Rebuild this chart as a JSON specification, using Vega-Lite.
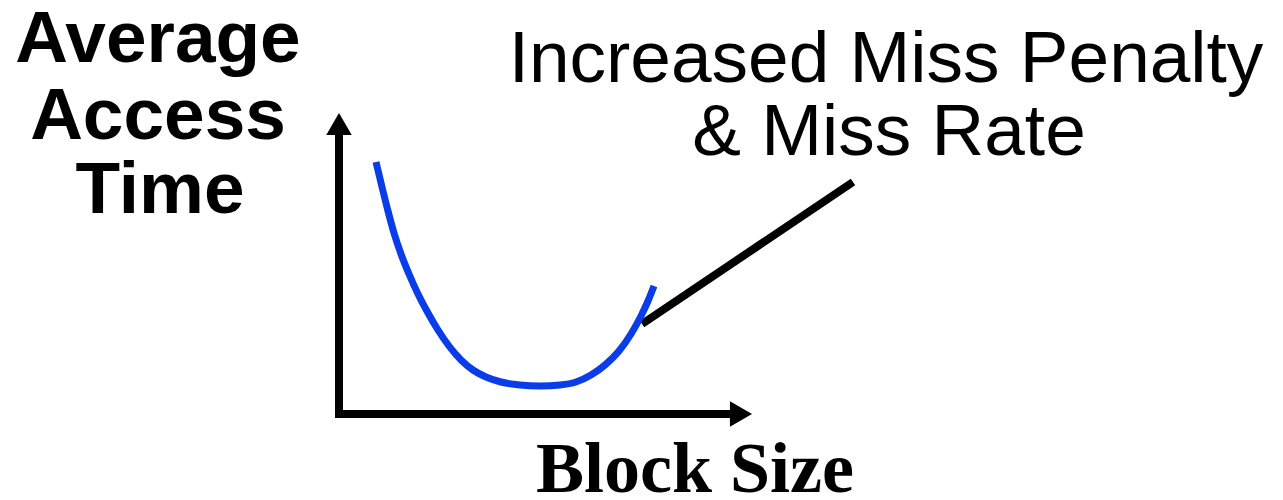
{
  "$schema": "https://vega.github.io/schema/vega-lite/v6.json",
  "width": 1283,
  "height": 500,
  "padding": 0,
  "autosize": {"type": "none"},
  "background": "white",
  "config": {"view": {"stroke": null}},
  "datasets": {
    "segments": [
      {"seg": "yaxis", "ord": 1, "x": 339, "y": 418},
      {"seg": "yaxis", "ord": 2, "x": 339, "y": 128},
      {"seg": "xaxis", "ord": 1, "x": 335, "y": 414},
      {"seg": "xaxis", "ord": 2, "x": 738, "y": 414},
      {"seg": "pointer", "ord": 1, "x": 642, "y": 324},
      {"seg": "pointer", "ord": 2, "x": 853, "y": 182}
    ],
    "heads": [
      {"dir": "up", "x": 339, "y": 124},
      {"dir": "right", "x": 741, "y": 414}
    ],
    "curve": [
      {"x": 376, "y": 162},
      {"x": 382, "y": 187},
      {"x": 388, "y": 211},
      {"x": 394, "y": 233},
      {"x": 401, "y": 254},
      {"x": 409, "y": 274},
      {"x": 418, "y": 294},
      {"x": 428, "y": 313},
      {"x": 438, "y": 330},
      {"x": 449, "y": 346},
      {"x": 461, "y": 360},
      {"x": 473, "y": 370},
      {"x": 486, "y": 377},
      {"x": 501, "y": 382},
      {"x": 520, "y": 385},
      {"x": 540, "y": 386},
      {"x": 560, "y": 385},
      {"x": 576, "y": 382},
      {"x": 591, "y": 375},
      {"x": 605, "y": 365},
      {"x": 619, "y": 351},
      {"x": 631, "y": 334},
      {"x": 641, "y": 316},
      {"x": 648, "y": 301},
      {"x": 654, "y": 286}
    ],
    "ylabel": [
      {"label": "Average", "x": 158, "y": 62},
      {"label": "Access", "x": 158, "y": 139},
      {"label": "Time", "x": 160, "y": 213}
    ],
    "note": [
      {"label": "Increased Miss Penalty", "x": 886, "y": 82},
      {"label": "& Miss Rate", "x": 889, "y": 155}
    ],
    "xlabel": [
      {"label": "Block Size", "x": 695, "y": 492}
    ]
  },
  "layer": [
    {
      "data": {"name": "segments"},
      "mark": {"type": "line", "color": "black", "strokeWidth": 8, "strokeCap": "butt"},
      "encoding": {
        "x": {"field": "x", "type": "quantitative", "scale": {"domain": [0, 1283], "nice": false, "zero": false}, "axis": null},
        "y": {"field": "y", "type": "quantitative", "scale": {"domain": [0, 500], "nice": false, "zero": false, "reverse": true}, "axis": null},
        "detail": {"field": "seg"},
        "order": {"field": "ord"}
      }
    },
    {
      "data": {"name": "heads"},
      "mark": {"type": "point", "filled": true, "color": "black", "opacity": 1, "size": 650},
      "encoding": {
        "x": {"field": "x", "type": "quantitative"},
        "y": {"field": "y", "type": "quantitative"},
        "shape": {"field": "dir", "type": "nominal", "scale": {"domain": ["up", "right"], "range": ["triangle-up", "triangle-right"]}, "legend": null}
      }
    },
    {
      "data": {"name": "curve"},
      "mark": {"type": "line", "color": "#0A3CE8", "strokeWidth": 7, "interpolate": "monotone", "strokeCap": "butt"},
      "encoding": {
        "x": {"field": "x", "type": "quantitative"},
        "y": {"field": "y", "type": "quantitative"}
      }
    },
    {
      "data": {"name": "ylabel"},
      "mark": {"type": "text", "font": "Liberation Sans", "fontWeight": "bold", "fontSize": 73, "align": "center", "baseline": "alphabetic", "color": "black"},
      "encoding": {
        "x": {"field": "x", "type": "quantitative"},
        "y": {"field": "y", "type": "quantitative"},
        "text": {"field": "label"}
      }
    },
    {
      "data": {"name": "note"},
      "mark": {"type": "text", "font": "Liberation Sans", "fontSize": 73, "align": "center", "baseline": "alphabetic", "color": "black"},
      "encoding": {
        "x": {"field": "x", "type": "quantitative"},
        "y": {"field": "y", "type": "quantitative"},
        "text": {"field": "label"}
      }
    },
    {
      "data": {"name": "xlabel"},
      "mark": {"type": "text", "font": "Liberation Serif", "fontWeight": "bold", "fontSize": 72, "align": "center", "baseline": "alphabetic", "color": "black"},
      "encoding": {
        "x": {"field": "x", "type": "quantitative"},
        "y": {"field": "y", "type": "quantitative"},
        "text": {"field": "label"}
      }
    }
  ]
}
